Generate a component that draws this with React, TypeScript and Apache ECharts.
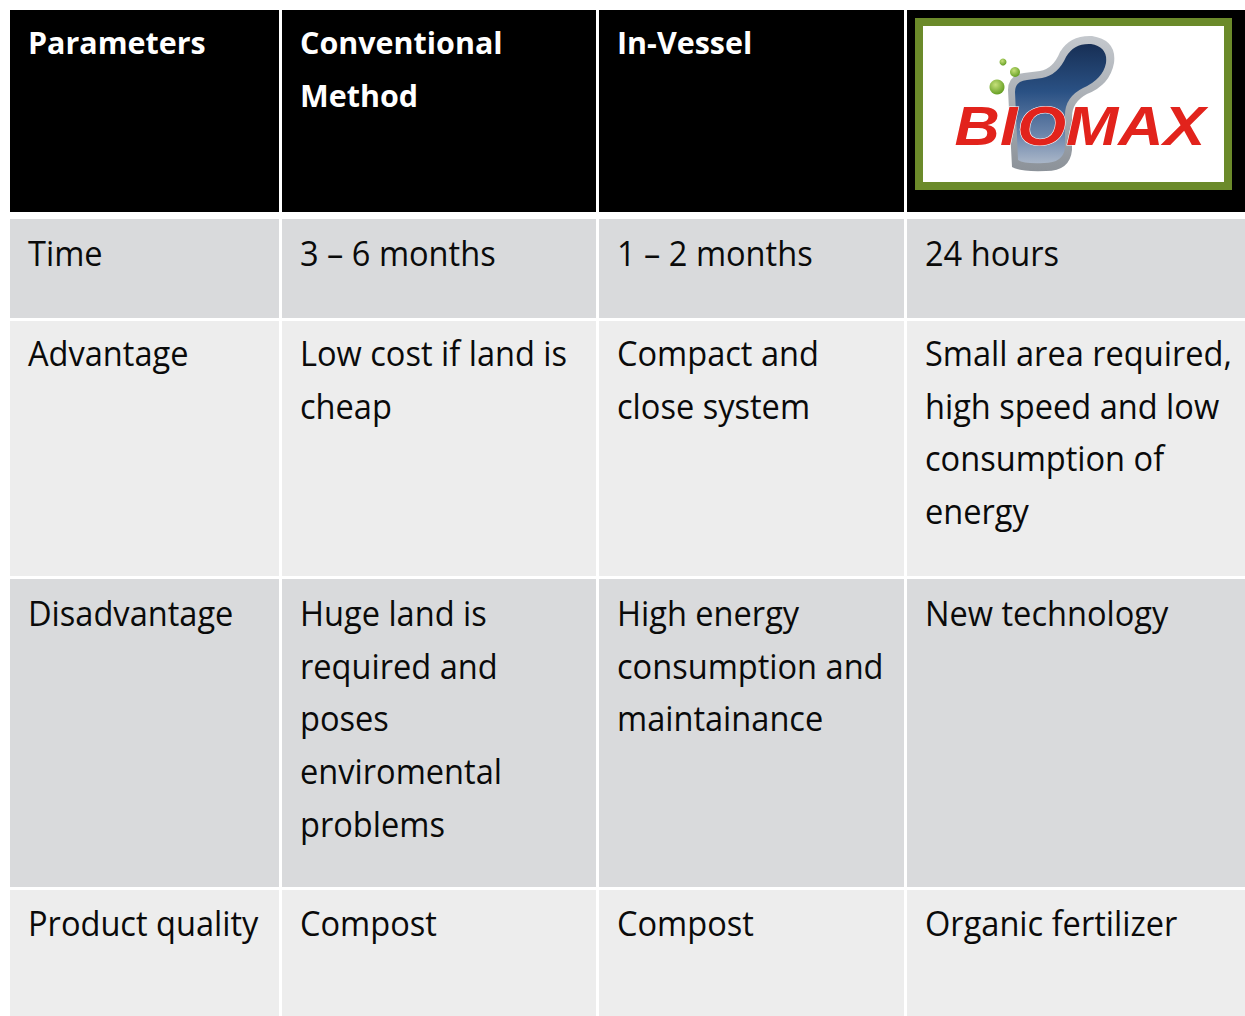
import React, { useEffect, useRef } from "react";
import * as echarts from "echarts";

// ---- Data ----
const headers: string[][] = [["Parameters"], ["Conventional", "Method"], ["In-Vessel"], []];
const parameters: string[][] = [["Time"], ["Advantage"], ["Disadvantage"], ["Product quality"]];
const conventional: string[][] = [
  ["3 – 6 months"],
  ["Low cost if land is", "cheap"],
  ["Huge land is", "required and", "poses", "enviromental", "problems"],
  ["Compost"],
];
const inVessel: string[][] = [
  ["1 – 2 months"],
  ["Compact and", "close system"],
  ["High energy", "consumption and", "maintainance"],
  ["Compost"],
];
const biomax: string[][] = [
  ["24 hours"],
  ["Small area required,", "high speed and low", "consumption of", "energy"],
  ["New technology"],
  ["Organic fertilizer"],
];
const logoWord = "BIOMAX";

// ---- Layout ----
const colL = [10, 282, 599, 907];
const colR = [279, 596, 904, 1245];
const rowT = [10, 219, 321, 579, 890];
const rowB = [212, 318, 576, 887, 1016];
const rowBaseOffset = [43.5, 46, 44, 46, 45];
const rowFill = ["#000000", "#d9dadc", "#ededed", "#d9dadc", "#ededed"];
const LINE = 52.7;
const BODY_FS = 34;
const HEAD_FS = 30;

const BLOB_OUTER =
  "M 1012 167 L 1008 90 Q 1008 75 1024 73 L 1040 71 Q 1053 69 1060 52 Q 1070 35 1092 36 Q 1117 40 1114 63 Q 1110 85 1087 94 Q 1072 102 1072 117 L 1072 150 Q 1070 171 1046 171 Q 1020 172 1012 167 Z";
const BLOB_INNER =
  "M 1018 160 L 1015 92 Q 1015 81 1027 80 L 1042 78 Q 1058 75 1066 57 Q 1074 43 1091 44 Q 1108 47 1106 63 Q 1103 79 1083 88 Q 1065 97 1065 115 L 1065 148 Q 1063 163 1044 163 Q 1024 164 1018 160 Z";

export default function App() {
  const ref = useRef<HTMLDivElement>(null);
  useEffect(() => {
    if (!ref.current) return;
    echarts.graphic.registerShape("blobOuter", echarts.graphic.extendPath(BLOB_OUTER, {}) as any);
    echarts.graphic.registerShape("blobInner", echarts.graphic.extendPath(BLOB_INNER, {}) as any);
    const chart = echarts.init(ref.current, null, { renderer: "svg" });
    const els: any[] = [];
    for (let r = 0; r < 5; r++) {
      for (let c = 0; c < 4; c++) {
        els.push({
          type: "rect",
          shape: { x: colL[c], y: rowT[r], width: colR[c] - colL[c], height: rowB[r] - rowT[r] },
          style: { fill: rowFill[r] },
          silent: true,
        });
      }
    }
    const addLines = (lines: string[], c: number, r: number, head: boolean) => {
      const fs = head ? HEAD_FS : BODY_FS;
      const firstBase = rowT[r] + rowBaseOffset[r];
      lines.forEach((t, i) => {
        const base = firstBase + i * LINE;
        els.push({
          type: "text",
          x: colL[c] + 18,
          y: base - fs * 0.36,
          scaleX: head ? 1.015 : 0.958,
          silent: true,
          style: {
            text: t,
            x: 0,
            y: 0,
            fill: head ? "#ffffff" : "#0a0a0a",
            font: `${head ? "bold " : ""}${fs}px "Open Sans", sans-serif`,
            textAlign: "left",
            textVerticalAlign: "middle",
          },
        });
      });
    };
    headers.forEach((h, c) => addLines(h, c, 0, true));
    const cols = [parameters, conventional, inVessel, biomax];
    cols.forEach((col, c) => col.forEach((cell, r) => addLines(cell, c, r + 1, false)));

    // logo
    els.push({ type: "rect", shape: { x: 915, y: 18, width: 317, height: 172 }, style: { fill: "#6b8a2a" }, silent: true });
    els.push({ type: "rect", shape: { x: 923, y: 26, width: 301, height: 156 }, style: { fill: "#ffffff" }, silent: true });
    els.push({
      type: "blobOuter",
      silent: true,
      style: {
        fill: new echarts.graphic.LinearGradient(0, 0, 0, 1, [
          { offset: 0, color: "#c4c8cd" },
          { offset: 1, color: "#8c9299" },
        ]),
      },
    });
    els.push({
      type: "blobInner",
      silent: true,
      style: {
        fill: new echarts.graphic.LinearGradient(0, 0, 0, 1, [
          { offset: 0, color: "#172f55" },
          { offset: 0.4, color: "#2a5184" },
          { offset: 0.75, color: "#6a84aa" },
          { offset: 1, color: "#a9b6c8" },
        ]),
      },
    });
    const dots = [
      [1003, 62, 3.5],
      [1015, 72, 5],
      [997, 87, 7.5],
    ];
    dots.forEach(([cx, cy, rr]) =>
      els.push({
        type: "circle",
        silent: true,
        shape: { cx, cy, r: rr },
        style: {
          fill: new echarts.graphic.RadialGradient(0.4, 0.35, 0.7, [
            { offset: 0, color: "#c6e07a" },
            { offset: 1, color: "#5f9a1e" },
          ]),
        },
      })
    );
    els.push({
      type: "text",
      x: 1080,
      y: 126,
      scaleX: 1.12,
      silent: true,
      style: {
        text: logoWord,
        x: 0,
        y: 0,
        fill: "#e2231c",
        stroke: "#ffffff",
        lineWidth: 1,
        font: 'italic bold 56px "Liberation Sans", Arial, sans-serif',
        textAlign: "center",
        textVerticalAlign: "middle",
      },
    });

    chart.setOption({ animation: false, graphic: { elements: els } });
    return () => chart.dispose();
  }, []);
  return (
    <div
      ref={ref}
      style={{ position: "fixed", left: 0, top: 0, width: 1245, height: 1016, background: "#ffffff" }}
    />
  );
}
